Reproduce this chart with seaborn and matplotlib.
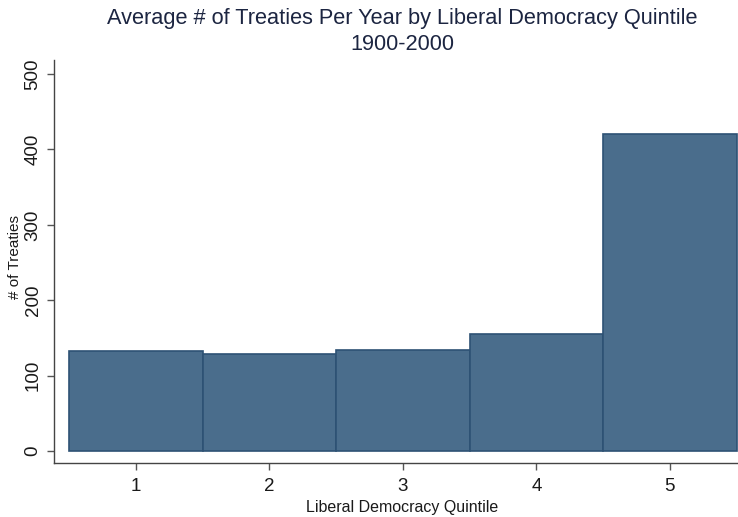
import matplotlib
matplotlib.use("Agg")
import matplotlib.pyplot as plt
import seaborn as sns
import pandas as pd

# data
quintiles = [1, 2, 3, 4, 5]
avg_treaties = [132, 129, 134.5, 155, 421]
y_ticks = [0, 100, 200, 300, 400, 500]

df = pd.DataFrame({"quintile": quintiles, "treaties": avg_treaties})

sns.set_style("white")
plt.rcParams["font.family"] = ["Liberation Sans", "DejaVu Sans"]

fig = plt.figure(figsize=(7.38, 5.17), dpi=100)
ax = fig.add_axes([0.0732, 0.1044, 0.9268, 0.7796])

sns.barplot(data=df, x="quintile", y="treaties", native_scale=True, width=1.0,
            color="#4a6d8c", saturation=1, edgecolor="#2e5274", linewidth=1.2, ax=ax)

ax.set_xlim(0.386, 5.51)
ax.set_ylim(-15.9, 518.6)
ax.set_xticks(quintiles)
ax.set_xticklabels([str(q) for q in quintiles])
ax.set_yticks(y_ticks)
ax.set_yticklabels([str(t) for t in y_ticks], rotation=90, va="center")

for side in ["top", "right"]:
    ax.spines[side].set_visible(False)
for side in ["left", "bottom"]:
    ax.spines[side].set_color("#444444")
    ax.spines[side].set_linewidth(1.0)

ax.tick_params(axis="both", bottom=True, left=True, length=5, width=1,
               color="#555555", labelsize=13.5, labelcolor="#1a1a1a")
ax.tick_params(axis="x", pad=6)
ax.tick_params(axis="y", pad=4)

ax.set_xlabel("Liberal Democracy Quintile", fontsize=11.5, color="#1a1a1a")
ax.xaxis.set_label_coords((402 - 54) / 684, -0.092)
ax.set_ylabel("# of Treaties", fontsize=11, color="#1a1a1a")
ax.yaxis.set_label_coords(-0.047, 0.51)

fig.suptitle("Average # of Treaties Per Year by Liberal Democracy Quintile\n1900-2000",
             x=0.545, y=0.985, fontsize=15.7, color="#1c2541", linespacing=1.35)

fig.savefig("out.png", dpi=100)
